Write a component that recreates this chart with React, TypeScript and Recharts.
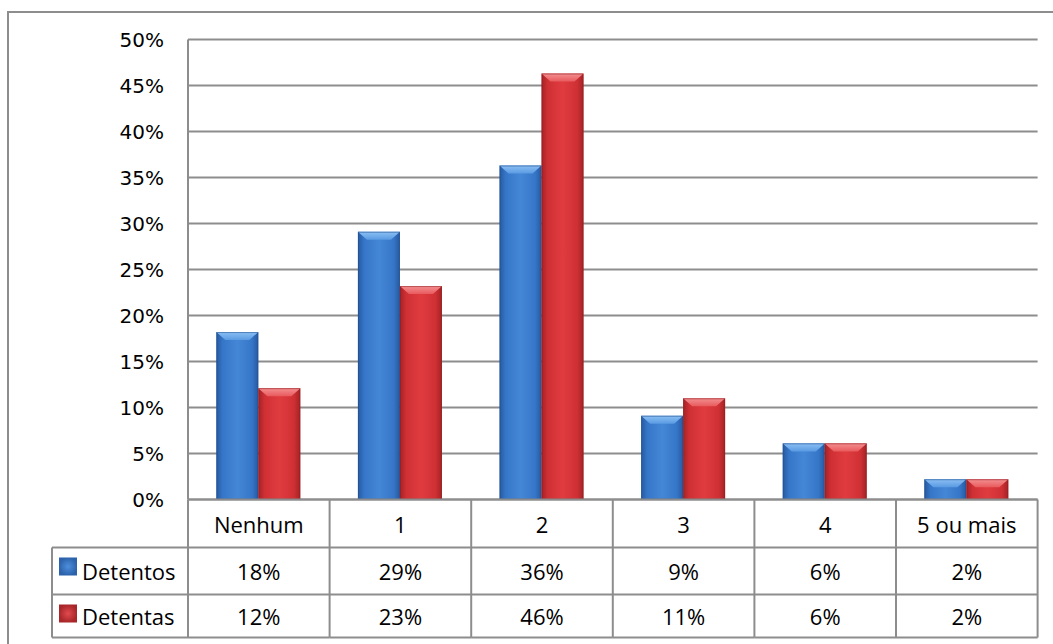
import React from "react";
import { BarChart, Bar, XAxis, YAxis, CartesianGrid } from "recharts";

const categories = ["Nenhum", "1", "2", "3", "4", "5 ou mais"];
const detentos = [18.2, 29.1, 36.3, 9.1, 6.1, 2.2];
const detentas = [12.1, 23.2, 46.3, 11.0, 6.1, 2.2];
const seriesNames = ["Detentos", "Detentas"];
const yTicks = [0, 5, 10, 15, 20, 25, 30, 35, 40, 45, 50];

const data = categories.map((c, i) => ({ cat: c, detentos: detentos[i], detentas: detentas[i] }));

const W = 1053;
const H = 644;
const PLOT_LEFT = 188;
const PLOT_RIGHT = 1037.6;
const PLOT_TOP = 39.5;
const PLOT_BOTTOM = 499.5;
const AXIS_H = 140;
const Y_AXIS_W = 100;
const CELL_W = (PLOT_RIGHT - PLOT_LEFT) / categories.length;
const ROWS = [0, 48, 95, 138];
const LEG_LEFT = 52;
const GRID = "#8d8d8d";
const TABLE_FONT = "'Open Sans', sans-serif";
const TABLE_SIZE = 22;

const fmt = (v: number) => `${Math.round(v)}%`;

function makeBar(kind: "blue" | "red") {
  return (props: any) => {
    const { x, y, width, height } = props;
    if (!height || height <= 0) return <g />;
    const b = Math.min(8, height / 2);
    const inset = Math.min(9, width / 4);
    return (
      <g>
        <rect x={x} y={y} width={width} height={height} fill={`url(#body-${kind})`} />
        <polygon
          points={`${x},${y} ${x + width},${y} ${x + width - inset},${y + b} ${x + inset},${y + b}`}
          fill={`url(#top-${kind})`}
        />
        <rect
          x={x + 0.5}
          y={y + 0.5}
          width={width - 1}
          height={height - 1}
          fill="none"
          stroke={kind === "blue" ? "#1f4f8f" : "#8f1f22"}
          strokeOpacity={0.55}
        />
      </g>
    );
  };
}

const BlueBar = makeBar("blue");
const RedBar = makeBar("red");

function TableTick(props: any) {
  const { x, y, payload, index } = props;
  const left = x - CELL_W / 2;
  const right = x + CELL_W / 2;
  const i = index as number;
  const line = { stroke: GRID, strokeWidth: 2 };
  const textProps = {
    textAnchor: "middle" as const,
    dominantBaseline: "central" as const,
    fontFamily: TABLE_FONT,
    fontSize: TABLE_SIZE,
    fill: "#000",
  };
  return (
    <g>
      {i === 0 && (
        <g>
          <line x1={left} y1={y} x2={left} y2={y + ROWS[3]} {...line} />
          <line x1={LEG_LEFT} y1={y + ROWS[1]} x2={left} y2={y + ROWS[1]} {...line} />
          <line x1={LEG_LEFT} y1={y + ROWS[2]} x2={left} y2={y + ROWS[2]} {...line} />
          <line x1={LEG_LEFT} y1={y + ROWS[3]} x2={left} y2={y + ROWS[3]} {...line} />
          <line x1={LEG_LEFT} y1={y + ROWS[1]} x2={LEG_LEFT} y2={y + ROWS[3]} {...line} />
          {seriesNames.map((n, k) => {
            const top = y + ROWS[k + 1];
            const mid = (y + ROWS[k + 1] + y + ROWS[k + 2]) / 2;
            return (
              <g key={n}>
                <rect x={LEG_LEFT + 7} y={top + 10} width={18} height={18} fill={`url(#key-${k === 0 ? "blue" : "red"})`} />
                <text x={LEG_LEFT + 30} y={mid} dominantBaseline="central" fontFamily={TABLE_FONT} fontSize={TABLE_SIZE} fill="#000">
                  {n}
                </text>
              </g>
            );
          })}
        </g>
      )}
      <line x1={right} y1={y} x2={right} y2={y + ROWS[3]} {...line} />
      <line x1={left} y1={y + ROWS[1]} x2={right} y2={y + ROWS[1]} {...line} />
      <line x1={left} y1={y + ROWS[2]} x2={right} y2={y + ROWS[2]} {...line} />
      <line x1={left} y1={y + ROWS[3]} x2={right} y2={y + ROWS[3]} {...line} />
      <text x={x} y={y + (ROWS[0] + ROWS[1]) / 2} {...textProps}>{payload.value}</text>
      <text x={x} y={y + (ROWS[1] + ROWS[2]) / 2} {...textProps}>{fmt(detentos[i])}</text>
      <text x={x} y={y + (ROWS[2] + ROWS[3]) / 2} {...textProps}>{fmt(detentas[i])}</text>
    </g>
  );
}

export default function App() {
  return (
    <div style={{ position: "absolute", left: 0, top: 0, width: W, height: H, overflow: "hidden", background: "#fff" }}>
      <svg width={0} height={0} style={{ position: "absolute" }}>
        <defs>
          <linearGradient id="body-blue" x1="0" y1="0" x2="1" y2="0">
            <stop offset="0%" stopColor="#26599f" />
            <stop offset="15%" stopColor="#3676c8" />
            <stop offset="50%" stopColor="#4587d7" />
            <stop offset="85%" stopColor="#3676c8" />
            <stop offset="100%" stopColor="#26599f" />
          </linearGradient>
          <linearGradient id="top-blue" x1="0" y1="0" x2="0" y2="1">
            <stop offset="0%" stopColor="#8cc0f4" />
            <stop offset="100%" stopColor="#5a9ae2" />
          </linearGradient>
          <linearGradient id="body-red" x1="0" y1="0" x2="1" y2="0">
            <stop offset="0%" stopColor="#a32226" />
            <stop offset="15%" stopColor="#cf3034" />
            <stop offset="50%" stopColor="#e03c40" />
            <stop offset="85%" stopColor="#cf3034" />
            <stop offset="100%" stopColor="#a32226" />
          </linearGradient>
          <linearGradient id="top-red" x1="0" y1="0" x2="0" y2="1">
            <stop offset="0%" stopColor="#f49092" />
            <stop offset="100%" stopColor="#e85a5d" />
          </linearGradient>
          <radialGradient id="key-blue">
            <stop offset="0%" stopColor="#4d8fdc" />
            <stop offset="100%" stopColor="#2c62ac" />
          </radialGradient>
          <radialGradient id="key-red">
            <stop offset="0%" stopColor="#e24a4e" />
            <stop offset="100%" stopColor="#a82629" />
          </radialGradient>
        </defs>
      </svg>
      <div
        style={{
          position: "absolute",
          left: 7,
          top: 11,
          width: 1200,
          height: 800,
          border: `2px solid ${GRID}`,
        }}
      />
      <div style={{ position: "absolute", left: 0, top: 0 }}>
        <BarChart
          width={W}
          height={H}
          data={data}
          margin={{
            top: PLOT_TOP,
            left: PLOT_LEFT - Y_AXIS_W,
            right: W - PLOT_RIGHT,
            bottom: H - PLOT_BOTTOM - AXIS_H,
          }}
          barCategoryGap="20%"
          barGap={0}
        >
          <CartesianGrid vertical={false} stroke={GRID} strokeWidth={2} />
          <YAxis
            width={Y_AXIS_W}
            domain={[0, 50]}
            ticks={yTicks}
            tickFormatter={(v: number) => `${v}%`}
            axisLine={{ stroke: GRID, strokeWidth: 2 }}
            tickLine={false}
            tickSize={0}
            tickMargin={24}
            tick={{ fill: "#000", fontSize: 20, fontFamily: "'DejaVu Sans', sans-serif" }}
            interval={0}
          />
          <XAxis
            dataKey="cat"
            height={AXIS_H}
            axisLine={{ stroke: GRID, strokeWidth: 2 }}
            tickLine={false}
            tickSize={0}
            tickMargin={0}
            interval={0}
            tick={<TableTick />}
          />
          <Bar dataKey="detentos" name="Detentos" isAnimationActive={false} shape={BlueBar} />
          <Bar dataKey="detentas" name="Detentas" isAnimationActive={false} shape={RedBar} />
        </BarChart>
      </div>
    </div>
  );
}
